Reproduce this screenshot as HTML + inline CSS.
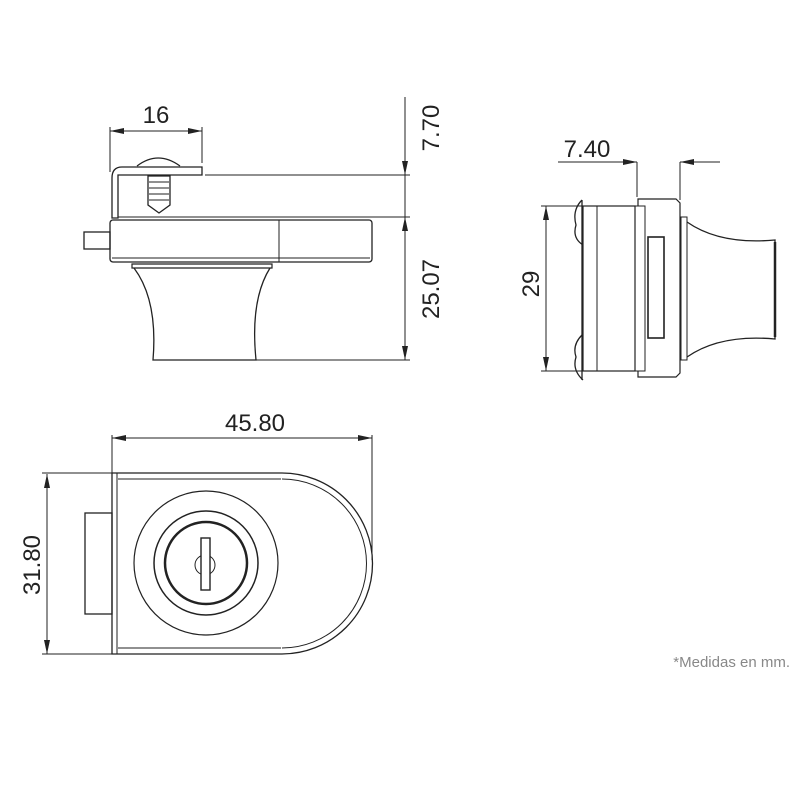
<html><body style="margin:0;background:#fff">
<svg width="800" height="800" viewBox="0 0 800 800" xmlns="http://www.w3.org/2000/svg" font-family="Liberation Sans, sans-serif">
<defs><marker id="a" markerWidth="14" markerHeight="6" refX="14" refY="3" orient="auto-start-reverse" markerUnits="userSpaceOnUse"><path d="M0,0 L14,3 L0,6 Z" fill="#222"/></marker></defs>
<g stroke="#222" fill="none" stroke-width="1">
<!-- top view -->
<line x1="110" y1="131" x2="202" y2="131" marker-start="url(#a)" marker-end="url(#a)"/>
<line x1="110" y1="127" x2="110" y2="172"/><line x1="202" y1="127" x2="202" y2="163"/>
<path d="M202,167 H122 Q112,167 112,178 V218 H118 V175 H202 Z" stroke-width="1.3"/>
<path d="M137,166 Q158,150 180,166" stroke-width="1.3"/>
<path d="M148,176 H170 V205 L159,213 L148,205 Z" stroke-width="1.3"/>
<path d="M149,182 H169 M149,188 H169 M149,194 H169 M149,200 H169"/>
<line x1="205" y1="175" x2="410" y2="175"/>
<line x1="118" y1="217" x2="410" y2="217"/>
<line x1="180" y1="360" x2="410" y2="360"/>
<line x1="405" y1="97" x2="405" y2="175" marker-end="url(#a)"/>
<line x1="405" y1="175" x2="405" y2="217"/>
<line x1="405" y1="217" x2="405" y2="360" marker-start="url(#a)" marker-end="url(#a)"/>
<rect x="110" y="220" width="262" height="42" rx="3" stroke-width="1.3"/>
<line x1="279" y1="220" x2="279" y2="262"/><line x1="112" y1="258" x2="370" y2="258"/>
<rect x="84" y="232" width="26" height="17" stroke-width="1.3"/>
<path d="M132,264 H272 V268 H132 Z" stroke-width="1.2"/>
<path d="M134,268 Q158,300 153,360 H256 Q250,300 270,268" stroke-width="1.3"/>
<!-- side view -->
<line x1="558" y1="162" x2="637" y2="162" marker-end="url(#a)"/>
<line x1="720" y1="162" x2="680" y2="162" marker-end="url(#a)"/>
<line x1="637" y1="162" x2="637" y2="197"/><line x1="680" y1="162" x2="680" y2="200"/>
<line x1="546" y1="206" x2="546" y2="371" marker-start="url(#a)" marker-end="url(#a)"/>
<line x1="541" y1="206" x2="583" y2="206"/><line x1="541" y1="371" x2="583" y2="371"/>
<path d="M582,200 Q572,210 576,225 Q572,238 583,245 M582,335 Q572,345 576,357 Q572,370 583,380" stroke-width="1.3"/>
<line x1="582" y1="200" x2="582" y2="380" stroke-width="1.3"/>
<rect x="583" y="206" width="52" height="165" stroke-width="1.2"/>
<line x1="597" y1="206" x2="597" y2="371"/>
<rect x="635" y="206" width="10" height="165"/>
<path d="M638,206 V199 H676 L680,203 V373 L676,377 H638 V371" stroke-width="1.2"/>
<rect x="648" y="237" width="16" height="101" stroke-width="1.6"/>
<rect x="681" y="217" width="6" height="143"/>
<path d="M687,222 Q720,245 775,240 V339 Q720,334 687,357" stroke-width="1.3"/>
<line x1="775" y1="242" x2="775" y2="337" stroke-width="2.5"/>
<!-- front view -->
<line x1="112" y1="438" x2="372" y2="438" marker-start="url(#a)" marker-end="url(#a)"/>
<line x1="112" y1="435" x2="112" y2="473"/><line x1="372" y1="435" x2="372" y2="560"/>
<line x1="47" y1="474" x2="47" y2="654" marker-start="url(#a)" marker-end="url(#a)"/>
<line x1="42" y1="473" x2="112" y2="473"/><line x1="42" y1="654" x2="112" y2="654"/>
<path d="M112,473 H282 A90,90 0 0 1 282,654 H112 Z" stroke-width="1.3"/>
<path d="M118,479 H281 M118,648 H281 M282,479 A84,84 0 0 1 282,648"/>
<line x1="117" y1="473" x2="117" y2="654"/>
<rect x="85" y="513" width="27" height="101" stroke-width="1.3"/>
<circle cx="206" cy="563" r="72" stroke-width="1.2"/>
<circle cx="206" cy="563" r="52" stroke-width="1.5"/>
<circle cx="206" cy="563" r="41" stroke-width="2.5"/>
<circle cx="205" cy="565" r="10"/>
<rect x="201" y="538" width="9" height="52" stroke-width="1.4" fill="#fff"/>
</g>
<g fill="#222" font-size="24">
<text x="156" y="123" text-anchor="middle">16</text>
<text x="255" y="431" text-anchor="middle">45.80</text>
<text x="587" y="157" text-anchor="middle">7.40</text>
<text transform="translate(439,128) rotate(-90)" text-anchor="middle">7.70</text>
<text transform="translate(439,289) rotate(-90)" text-anchor="middle">25.07</text>
<text transform="translate(539,284) rotate(-90)" text-anchor="middle">29</text>
<text transform="translate(40,565) rotate(-90)" text-anchor="middle">31.80</text>
</g>
<text x="790" y="667" text-anchor="end" font-size="15" fill="#888">*Medidas en mm.</text>
</svg>
</body></html>
